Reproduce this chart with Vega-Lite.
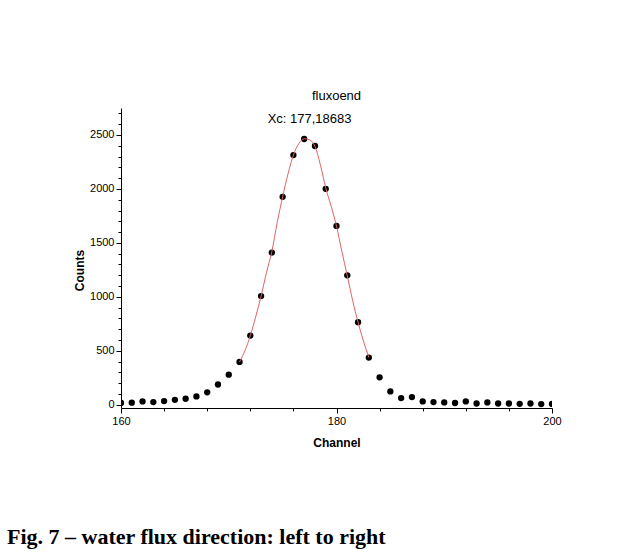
{
  "$schema": "https://vega.github.io/schema/vega-lite/v6.json",
  "padding": {"left": 7, "top": 90, "right": 5, "bottom": 5},
  "background": "white",
  "config": {"view": {"stroke": null}, "font": "Liberation Sans", "concat": {"spacing": 0}},
  "title": {"text": "Fig. 7 – water flux direction: left to right", "orient": "bottom", "anchor": "start", "font": "Liberation Serif", "fontSize": 22, "fontWeight": "bold", "color": "black", "offset": 79, "dx": -66},
  "datasets": {
    "points": [
      {"ch": 160, "c": 16}, {"ch": 161, "c": 19}, {"ch": 162, "c": 31}, {"ch": 163, "c": 25},
      {"ch": 164, "c": 34}, {"ch": 165, "c": 46}, {"ch": 166, "c": 56}, {"ch": 167, "c": 77},
      {"ch": 168, "c": 115}, {"ch": 169, "c": 188}, {"ch": 170, "c": 279}, {"ch": 171, "c": 397},
      {"ch": 172, "c": 641}, {"ch": 173, "c": 1007}, {"ch": 174, "c": 1410}, {"ch": 175, "c": 1927},
      {"ch": 176, "c": 2314}, {"ch": 177, "c": 2463}, {"ch": 178, "c": 2398}, {"ch": 179, "c": 2001},
      {"ch": 180, "c": 1657}, {"ch": 181, "c": 1199}, {"ch": 182, "c": 765}, {"ch": 183, "c": 437},
      {"ch": 184, "c": 254}, {"ch": 185, "c": 124}, {"ch": 186, "c": 62}, {"ch": 187, "c": 71},
      {"ch": 188, "c": 31}, {"ch": 189, "c": 25}, {"ch": 190, "c": 22}, {"ch": 191, "c": 16},
      {"ch": 192, "c": 31}, {"ch": 193, "c": 12}, {"ch": 194, "c": 22}, {"ch": 195, "c": 12},
      {"ch": 196, "c": 12}, {"ch": 197, "c": 9}, {"ch": 198, "c": 12}, {"ch": 199, "c": 6},
      {"ch": 200, "c": 8}
    ],
    "fit": [
      {"ch": 171, "c": 397}, {"ch": 171.5, "c": 500}, {"ch": 172, "c": 641}, {"ch": 172.5, "c": 815},
      {"ch": 173, "c": 1007}, {"ch": 173.5, "c": 1225}, {"ch": 174, "c": 1420}, {"ch": 174.5, "c": 1690},
      {"ch": 175, "c": 1927}, {"ch": 175.5, "c": 2140}, {"ch": 176, "c": 2314}, {"ch": 176.5, "c": 2420},
      {"ch": 177, "c": 2465}, {"ch": 177.5, "c": 2455}, {"ch": 178, "c": 2395}, {"ch": 178.5, "c": 2225},
      {"ch": 179, "c": 2010}, {"ch": 179.5, "c": 1840}, {"ch": 180, "c": 1655}, {"ch": 180.5, "c": 1420},
      {"ch": 181, "c": 1195}, {"ch": 181.5, "c": 965}, {"ch": 182, "c": 765}, {"ch": 182.5, "c": 590},
      {"ch": 183, "c": 437}
    ],
    "note": [{"ch": 177.5, "c": 2650, "label": "Xc: 177,18683"}]
  },
  "vconcat": [
    {
      "width": 431,
      "height": 300,
      "title": {"text": "fluxoend", "fontSize": 13, "fontWeight": "normal", "font": "Liberation Sans", "color": "black", "offset": 4, "anchor": "middle"},
      "encoding": {
        "x": {
          "field": "ch", "type": "quantitative",
          "scale": {"domain": [160, 200], "nice": false, "zero": false},
          "axis": {
            "title": "Channel", "values": [160, 164, 168, 172, 176, 180, 184, 188, 192, 196, 200],
            "format": "d", "labelExpr": "datum.value % 20 === 0 ? datum.label : ''",
            "tickSize": {"condition": {"test": "datum.value % 20 === 0", "value": 5}, "value": 3},
            "grid": false, "domainColor": "black", "tickColor": "black", "labelColor": "black",
            "labelFontSize": 11, "labelFlush": false, "labelOverlap": false, "labelPadding": 2,
            "titleFontSize": 12, "titleFontWeight": "bold", "titleColor": "black", "titlePadding": 11
          }
        },
        "y": {
          "field": "c", "type": "quantitative",
          "scale": {"domain": [-30, 2750], "nice": false, "zero": false},
          "axis": {
            "title": "Counts",
            "values": [0, 100, 200, 300, 400, 500, 600, 700, 800, 900, 1000, 1100, 1200, 1300, 1400, 1500, 1600, 1700, 1800, 1900, 2000, 2100, 2200, 2300, 2400, 2500, 2600, 2700],
            "format": "d", "labelExpr": "datum.value % 500 === 0 ? datum.label : ''",
            "tickSize": {"condition": {"test": "datum.value % 500 === 0", "value": 5}, "value": 3},
            "grid": false, "domainColor": "black", "tickColor": "black", "labelColor": "black",
            "labelFontSize": 11, "labelOverlap": false, "labelPadding": 2,
            "titleFontSize": 12, "titleFontWeight": "bold", "titleColor": "black",
            "titleX": -42, "titleY": 162, "titleAngle": -90, "titleAlign": "center", "titleBaseline": "middle"
          }
        }
      },
      "layer": [
        {"data": {"name": "points"}, "mark": {"type": "point", "filled": true, "color": "black", "size": 40, "opacity": 1, "clip": true}},
        {"data": {"name": "fit"}, "mark": {"type": "line", "color": "#e06464", "strokeWidth": 1, "interpolate": "monotone"}},
        {"data": {"name": "note"}, "mark": {"type": "text", "fontSize": 13, "color": "black", "align": "center", "baseline": "middle"}, "encoding": {"text": {"field": "label"}}}
      ]
    }
  ]
}
